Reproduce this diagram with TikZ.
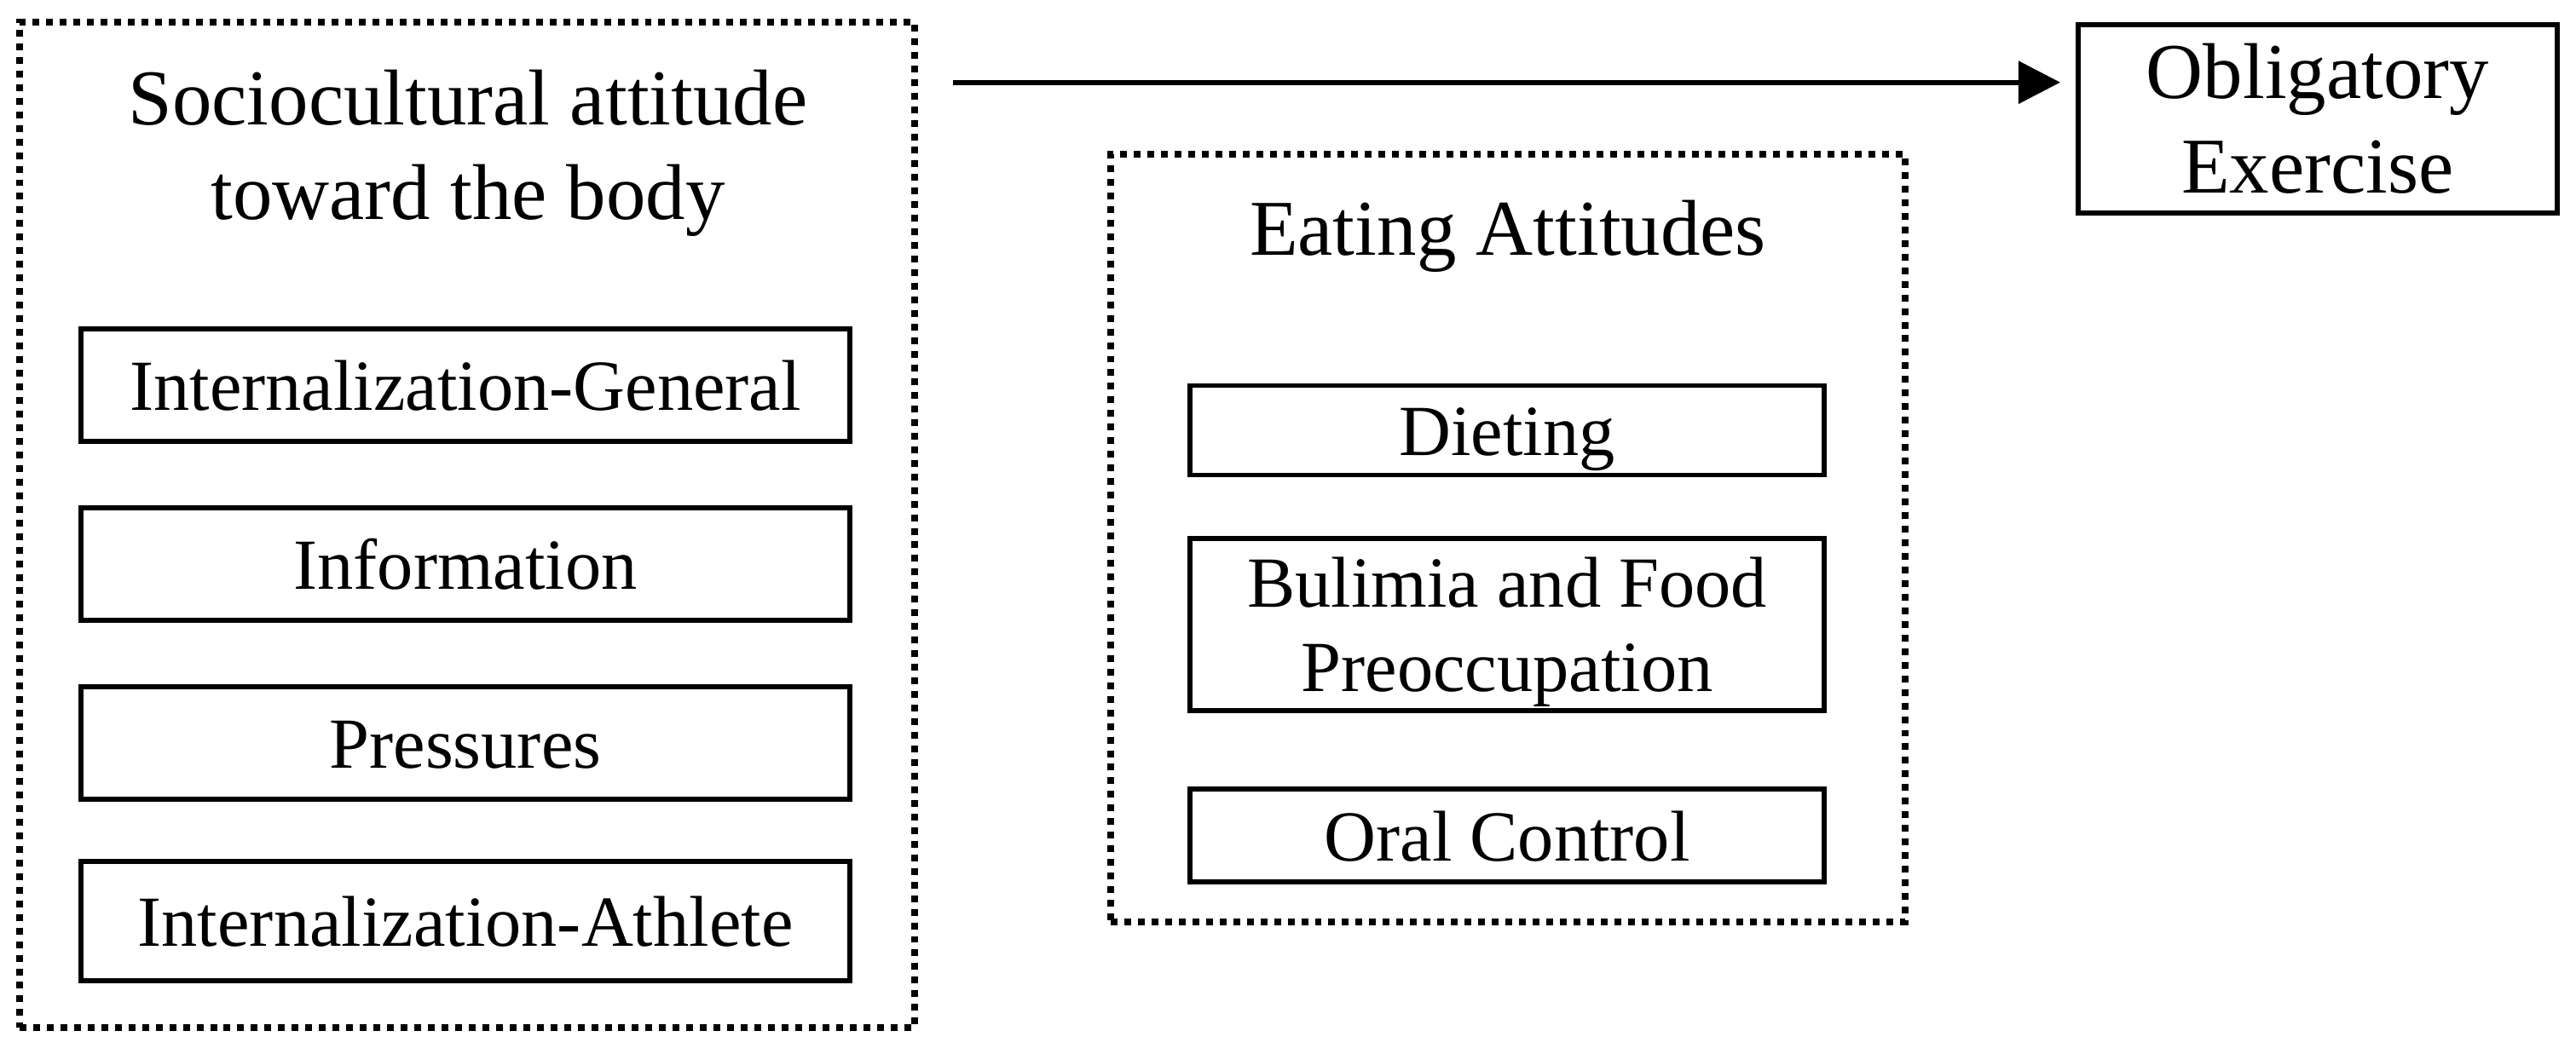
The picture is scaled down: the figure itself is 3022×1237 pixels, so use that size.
\documentclass[tikz,border=0pt]{standalone}
\usepackage{fontspec}
\setmainfont{Liberation Serif}
\usetikzlibrary{arrows.meta}
\begin{document}
\begin{tikzpicture}[x=0.01cm,y=-0.01cm,
  every node/.style={align=center, outer sep=0pt, inner sep=0pt},
  group/.style={draw, line width=2.27pt, dash pattern=on 2.27pt off 2.27pt},
  item/.style={draw, line width=1.7pt, font=\fontsize{24}{28.1}\selectfont},
  oneline/.style={text height=17pt, text depth=0pt},
  title/.style={font=\fontsize{26.4}{31.6}\selectfont},
  arrow/.style={line width=1.8pt, -{Triangle[length=0.49cm,width=0.49cm]}}]
\useasboundingbox (0,0) rectangle (3022,1237);
% containers
\node[group, minimum width=1050*0.01cm, minimum height=1180*0.01cm] (soc) at (548,616) {};
\node[group, minimum width=932*0.01cm, minimum height=901*0.01cm] (eat) at (1769,631.5) {};
% titles
\node[title] (soct) at (549,180) {Sociocultural attitude\\toward the body};
\node[title] (eatt) at (1769,277) {Eating Attitudes};
% items left
\node[item, oneline, minimum width=902*0.01cm, minimum height=132*0.01cm] (ig) at (546,452) {Internalization-General};
\node[item, oneline, minimum width=902*0.01cm, minimum height=132*0.01cm] (inf) at (546,662) {Information};
\node[item, oneline, minimum width=902*0.01cm, minimum height=132*0.01cm] (pr) at (546,872) {Pressures};
\node[item, oneline, minimum width=902*0.01cm, minimum height=140*0.01cm] (ia) at (546,1081) {Internalization-Athlete};
% items right
\node[item, oneline, minimum width=744*0.01cm, minimum height=105*0.01cm] (die) at (1768,505) {Dieting};
\node[item, minimum width=744*0.01cm, minimum height=202*0.01cm] (bul) at (1768,733) {\rule{0pt}{21.5pt}Bulimia and Food\\Preoccupation};
\node[item, oneline, minimum width=744*0.01cm, minimum height=109*0.01cm] (oc) at (1768,980.5) {Oral Control};
% outcome
\node[item, title, minimum width=562*0.01cm, minimum height=221*0.01cm] (obl) at (2719,139.5) {Obligatory\\Exercise};
% arrow
\coordinate (ay) at (0,96.7);
\draw[arrow] ([xshift=0.45cm]soc.east |- ay) -- ([xshift=-0.21cm]obl.west |- ay);
\end{tikzpicture}
\end{document}
